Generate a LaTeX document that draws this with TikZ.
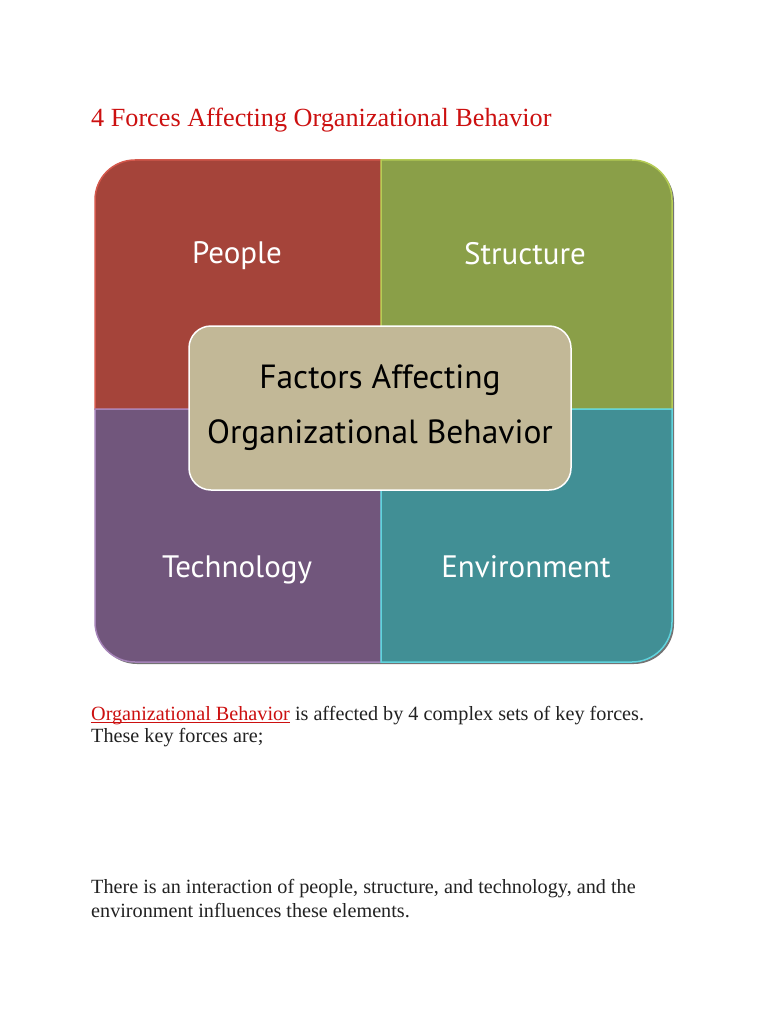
\documentclass[tikz,border=0pt]{standalone}
\usepackage{fontspec}
\setmainfont{Liberation Serif}
\newfontfamily\ptsans{PT Sans}
\usepackage{xcolor}
\definecolor{linkred}{HTML}{CC1010}
\definecolor{bodytext}{HTML}{222222}
\definecolor{peoplefill}{HTML}{A5443A}
\definecolor{peopleedge}{HTML}{D4584C}
\definecolor{structfill}{HTML}{8A9F48}
\definecolor{structedge}{HTML}{B5CC55}
\definecolor{techfill}{HTML}{71567C}
\definecolor{techedge}{HTML}{A583B8}
\definecolor{envfill}{HTML}{418F95}
\definecolor{envedge}{HTML}{5FD3DD}
\definecolor{tanbox}{HTML}{C2B897}
\newcommand{\linkul}[1]{\setbox0\hbox{#1}\rlap{\rule[-2.5pt]{\wd0}{1pt}}\box0}
\tikzstyle{quad}=[line width=1.5pt]
\tikzstyle{lbl}=[text=white, font=\ptsans\fontsize{31}{36}\selectfont]
\tikzstyle{centre}=[rounded corners=22pt, fill=tanbox, draw=white, line width=1.5pt,
  minimum width=382pt, minimum height=164pt, align=center,
  font=\ptsans\fontsize{33.5}{55}\selectfont]
\tikzstyle{body}=[anchor=base west, inner sep=0pt, text=bodytext,
  font=\fontsize{20.2}{24}\selectfont]

\begin{document}
\begin{tikzpicture}[x=1pt, y=-1pt]
    \useasboundingbox[fill=white] (0,0) rectangle (768,1024);
    \node[anchor=base west, inner sep=0pt, text=linkred,
      font=\fontsize{26.2}{30}\selectfont] (title) at (91,127)
      {4 Forces Affecting Organizational Behavior};
    % shadow under the square
    \fill[black!55, rounded corners=40pt] (97,162) rectangle (674,664);
    % four quadrants
    \draw[quad, fill=peoplefill, draw=peopleedge] (95,300) [rounded corners=40pt]
      -- (95,160) -- (240,160) [sharp corners] -- (381,160) -- (381,409) -- (95,409) -- cycle;
    \draw[quad, fill=structfill, draw=structedge] (530,160) [rounded corners=40pt]
      -- (672,160) -- (672,300) [sharp corners] -- (672,409) -- (381,409) -- (381,160) -- cycle;
    \draw[quad, fill=techfill, draw=techedge] (240,662) [rounded corners=40pt]
      -- (95,662) -- (95,520) [sharp corners] -- (95,409) -- (381,409) -- (381,662) -- cycle;
    \draw[quad, fill=envfill, draw=envedge] (672,520) [rounded corners=40pt]
      -- (672,662) -- (530,662) [sharp corners] -- (381,662) -- (381,409) -- (672,409) -- cycle;
    \node[lbl] (people) at (237,256) {People};
    \node[lbl] (structure) at (525,254) {Structure};
    \node[lbl] (technology) at (237,570) {Technology};
    \node[lbl] (environment) at (526,567) {Environment};
    \node[centre] (factors) at (380,408) {Factors Affecting\\Organizational Behavior};
    % text below
    \node[body] (line1) at (91,720)
      {{\color{linkred}\linkul{Organizational Behavior}} is affected by 4 complex sets of key forces.};
    \node[body] (line2) at (91,742) {These key forces are;};
    \node[body] (line3) at (91,893)
      {There is an interaction of people, structure, and technology, and the};
    \node[body] (line4) at (91,917) {environment influences these elements.};
\end{tikzpicture}
\end{document}
